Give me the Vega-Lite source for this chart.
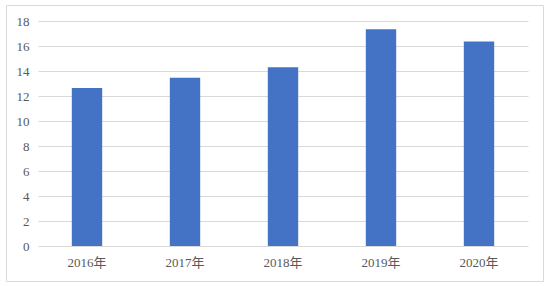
{
  "$schema": "https://vega.github.io/schema/vega-lite/v6.json",
  "width": 537,
  "height": 276,
  "autosize": {"type": "none"},
  "padding": {"left": 6, "top": 5, "right": 6, "bottom": 5},
  "background": "#ffffff",
  "config": {
    "view": {"stroke": "#d9d9d9", "strokeWidth": 1},
    "font": "Liberation Serif",
    "axis": {
      "labelFont": "Liberation Serif, Noto Sans CJK SC",
      "labelFontSize": 13,
      "labelColor": "#595959",
      "title": null,
      "ticks": false,
      "domain": false,
      "gridColor": "#d9d9d9",
      "gridWidth": 1
    }
  },
  "data": {
    "values": [
      {"year": "2016年", "value": 12.65},
      {"year": "2017年", "value": 13.46},
      {"year": "2018年", "value": 14.3},
      {"year": "2019年", "value": 17.35},
      {"year": "2020年", "value": 16.37}
    ]
  },
  "mark": {"type": "bar", "color": "#4472c4"},
  "encoding": {
    "x": {
      "field": "year",
      "type": "nominal",
      "sort": null,
      "scale": {"range": [32, 522], "paddingInner": 0.69, "paddingOuter": 0.345},
      "axis": {"labelAngle": 0, "grid": false, "offset": -35, "labelPadding": 10}
    },
    "y": {
      "field": "value",
      "type": "quantitative",
      "scale": {"domain": [0, 18], "nice": false, "range": [241, 16]},
      "axis": {"values": [0, 2, 4, 6, 8, 10, 12, 14, 16, 18], "offset": -32, "labelPadding": 9, "grid": true}
    }
  }
}
